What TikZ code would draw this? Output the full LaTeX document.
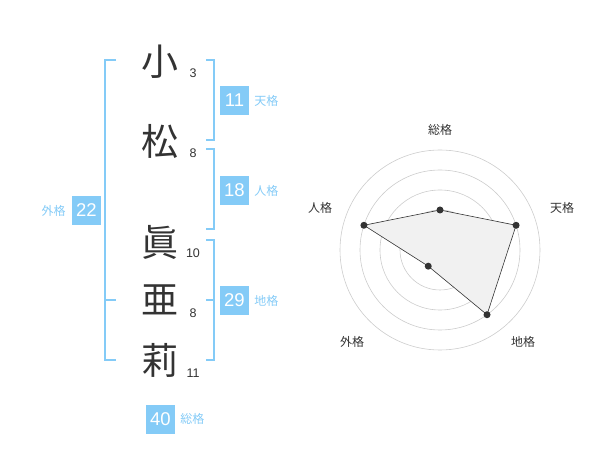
\documentclass[tikz,border=0pt]{standalone}
\usepackage{fontspec}
\setmainfont{Liberation Sans}
\newfontfamily\jpfont{Noto Sans CJK JP}
\usetikzlibrary{positioning}
\definecolor{kakublue}{HTML}{84CBF7}
\definecolor{inkgray}{HTML}{333333}
\definecolor{ringgray}{HTML}{CCCCCC}
\definecolor{areagray}{HTML}{F1F1F1}
\begin{document}
\begin{tikzpicture}[x=1pt,y=-1pt,
    kanji/.style={inner sep=0pt,text=inkgray,font=\jpfont\fontsize{37}{37}\selectfont},
    strokes/.style={inner sep=0pt,text=inkgray,font=\fontsize{12.5}{12.5}\selectfont},
    kaku box/.style={fill=kakublue,text=white,minimum size=29pt,inner sep=0pt,font=\fontsize{18.5}{18.5}\selectfont},
    kaku label/.style={inner sep=0pt,text=kakublue,font=\jpfont\fontsize{12}{12}\selectfont},
    bracket/.style={draw=kakublue,line width=1.5pt},
    ring/.style={draw=ringgray,line width=0.6pt},
    axis label/.style={inner sep=0pt,text=inkgray,font=\jpfont\fontsize{12}{12}\selectfont},
    value dot/.style={circle,fill=inkgray,inner sep=0pt,minimum size=7pt}]

  \useasboundingbox (0,0) rectangle (600,470);

  % Define name characters
  \node[kanji] (k1) at (160,62) {小};
  \node[kanji] (k2) at (160,141.5) {松};
  \node[kanji] (k3) at (160,242) {眞};
  \node[kanji] (k4) at (160,300) {亜};
  \node[kanji] (k5) at (160,360) {莉};

  \node[strokes] (s1) at (193,73) {3};
  \node[strokes] (s2) at (193,153) {8};
  \node[strokes] (s3) at (193,253) {10};
  \node[strokes] (s4) at (193,313) {8};
  \node[strokes] (s5) at (193,373) {11};

  % Brackets
  \draw[bracket] (206,60) -- (214,60) -- (214,140) -- (206,140);
  \draw[bracket] (206,149) -- (214,149) -- (214,229) -- (206,229);
  \draw[bracket] (206,240) -- (214,240) -- (214,360) -- (206,360);
  \draw[bracket] (206,300) -- (214,300);
  \draw[bracket] (116,60) -- (105,60) -- (105,360) -- (116,360);
  \draw[bracket] (105,300) -- (116,300);

  % Define sums
  \node[kaku box] (ten) at (234.5,100.5) {11};
  \node[kaku label,right=5pt of ten] (tenL) {天格};
  \node[kaku box] (jin) at (234.5,190.5) {18};
  \node[kaku label,right=5pt of jin] (jinL) {人格};
  \node[kaku box] (chi) at (234.5,300.5) {29};
  \node[kaku label,right=5pt of chi] (chiL) {地格};
  \node[kaku box] (gai) at (86.5,210.5) {22};
  \node[kaku label,left=6pt of gai] (gaiL) {外格};
  \node[kaku box] (sou) at (160.5,419) {40};
  \node[kaku label,right=5pt of sou] (souL) {総格};

  % Radar chart
  \begin{scope}[shift={(440,250)},y=1pt]
    \foreach \r in {20,40,60,80,100}
      \draw[ring] (0,0) circle[radius=\r];
    \fill[ringgray] (0,0) circle[radius=3.5];

    \coordinate (pSou) at (90:40);
    \coordinate (pTen) at (18:80);
    \coordinate (pChi) at (-54:80);
    \coordinate (pGai) at (-126:20);
    \coordinate (pJin) at (162:80);

    \filldraw[fill=areagray,draw=inkgray,line width=0.6pt]
      (pSou) -- (pTen) -- (pChi) -- (pGai) -- (pJin) -- cycle;

    \foreach \p in {pSou,pTen,pChi,pGai,pJin}
      \node[value dot] at (\p) {};

    \node[axis label] (aSou) at (0,120) {総格};
    \node[axis label] (aTen) at (122,42) {天格};
    \node[axis label] (aChi) at (83,-92) {地格};
    \node[axis label] (aGai) at (-88,-92) {外格};
    \node[axis label] (aJin) at (-120,42) {人格};
  \end{scope}

\end{tikzpicture}
\end{document}
